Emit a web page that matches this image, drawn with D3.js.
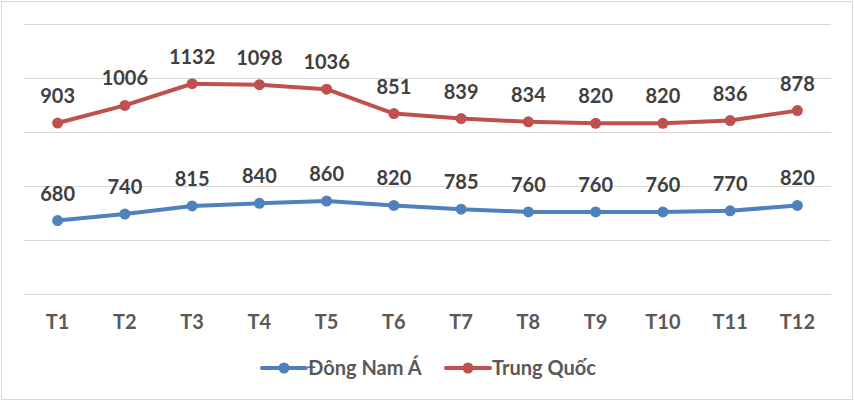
<!DOCTYPE html>
<html>
<head>
<meta charset="utf-8">
<script src="https://cdn.jsdelivr.net/npm/d3@7"></script>
<style>
html,body{margin:0;padding:0;background:#fff;}
svg{display:block;}
text{font-family:Lato,"Open Sans",sans-serif;font-weight:bold;}
</style>
</head>
<body>
<svg id="chart" width="854" height="401"></svg>
<script>
const months = ["T1","T2","T3","T4","T5","T6","T7","T8","T9","T10","T11","T12"];
const dongNamA = [680,740,815,840,860,820,785,760,760,760,770,820];
const trungQuoc = [903,1006,1132,1098,1036,851,839,834,820,820,836,878];
const seriesNames = ["Đông Nam Á","Trung Quốc"];
const seriesColors = ["#4F81BD","#C0504D"];
const yTicks = [0,500,1000,1500,2000,2500];

const svg = d3.select("#chart");
const W = 854, H = 401;
const m = {left:24, right:23, top:24, bottom:107};
const FS = 20;

// border
svg.append("rect").attr("x",1.5).attr("y",1.5).attr("width",W-3).attr("height",H-3)
  .attr("fill","#fff").attr("stroke","#d9d9d9").attr("stroke-width",1);

const x = d3.scaleBand().domain(months).range([m.left, W-m.right]);
const y = d3.scaleLinear().domain([0,2500]).range([H-m.bottom, m.top]);

// gridlines
svg.append("g").selectAll("line").data(yTicks).join("line")
  .attr("x1",m.left).attr("x2",W-m.right)
  .attr("y1",d=>Math.round(y(d))+0.5).attr("y2",d=>Math.round(y(d))+0.5)
  .attr("stroke","#d9d9d9").attr("stroke-width",1);

// x axis labels
const xAxis = d3.axisBottom(x).tickSize(0).tickPadding(0);
const gx = svg.append("g").attr("transform",`translate(0,${y(0)})`).call(xAxis);
gx.select(".domain").remove();
gx.selectAll("text").attr("y",35).attr("dy",null)
  .attr("font-size",FS).attr("fill","#595959")
  .attr("font-family","Lato, 'Open Sans', sans-serif").attr("font-weight","bold");

// stacked data
const table = months.map((mo,i)=>({month:mo, a:dongNamA[i], b:trungQuoc[i]}));
const stack = d3.stack().keys(["a","b"]);
const layers = stack(table);
const raw = [dongNamA, trungQuoc];

const line = d3.line().x((d,i)=>x(months[i])+x.bandwidth()/2).y(d=>y(d[1]));

layers.forEach((layer,k)=>{
  const g = svg.append("g");
  g.append("path").datum(layer).attr("d",line)
    .attr("fill","none").attr("stroke",seriesColors[k]).attr("stroke-width",4)
    .attr("stroke-linejoin","round").attr("stroke-linecap","round");
  g.selectAll("circle").data(layer).join("circle")
    .attr("cx",(d,i)=>x(months[i])+x.bandwidth()/2).attr("cy",d=>y(d[1]))
    .attr("r",5.5).attr("fill",seriesColors[k]);
  g.selectAll("text").data(layer).join("text")
    .attr("x",(d,i)=>x(months[i])+x.bandwidth()/2).attr("y",d=>y(d[1])-20)
    .attr("text-anchor","middle").attr("font-size",FS).attr("fill","#404040")
    .text((d,i)=>raw[k][i]);
});

// legend
const legend = svg.append("g");
const legX = [262, 446];
seriesNames.forEach((name,k)=>{
  const lg = legend.append("g").attr("transform",`translate(${legX[k]},368)`);
  lg.append("line").attr("x1",0).attr("x2",44).attr("y1",0).attr("y2",0)
    .attr("stroke",seriesColors[k]).attr("stroke-width",4).attr("stroke-linecap","round");
  lg.append("circle").attr("cx",22).attr("cy",0).attr("r",5.5).attr("fill",seriesColors[k]);
  lg.append("text").attr("x",46).attr("y",7).attr("font-size",FS).attr("fill","#595959").text(name);
});
</script>
</body>
</html>
